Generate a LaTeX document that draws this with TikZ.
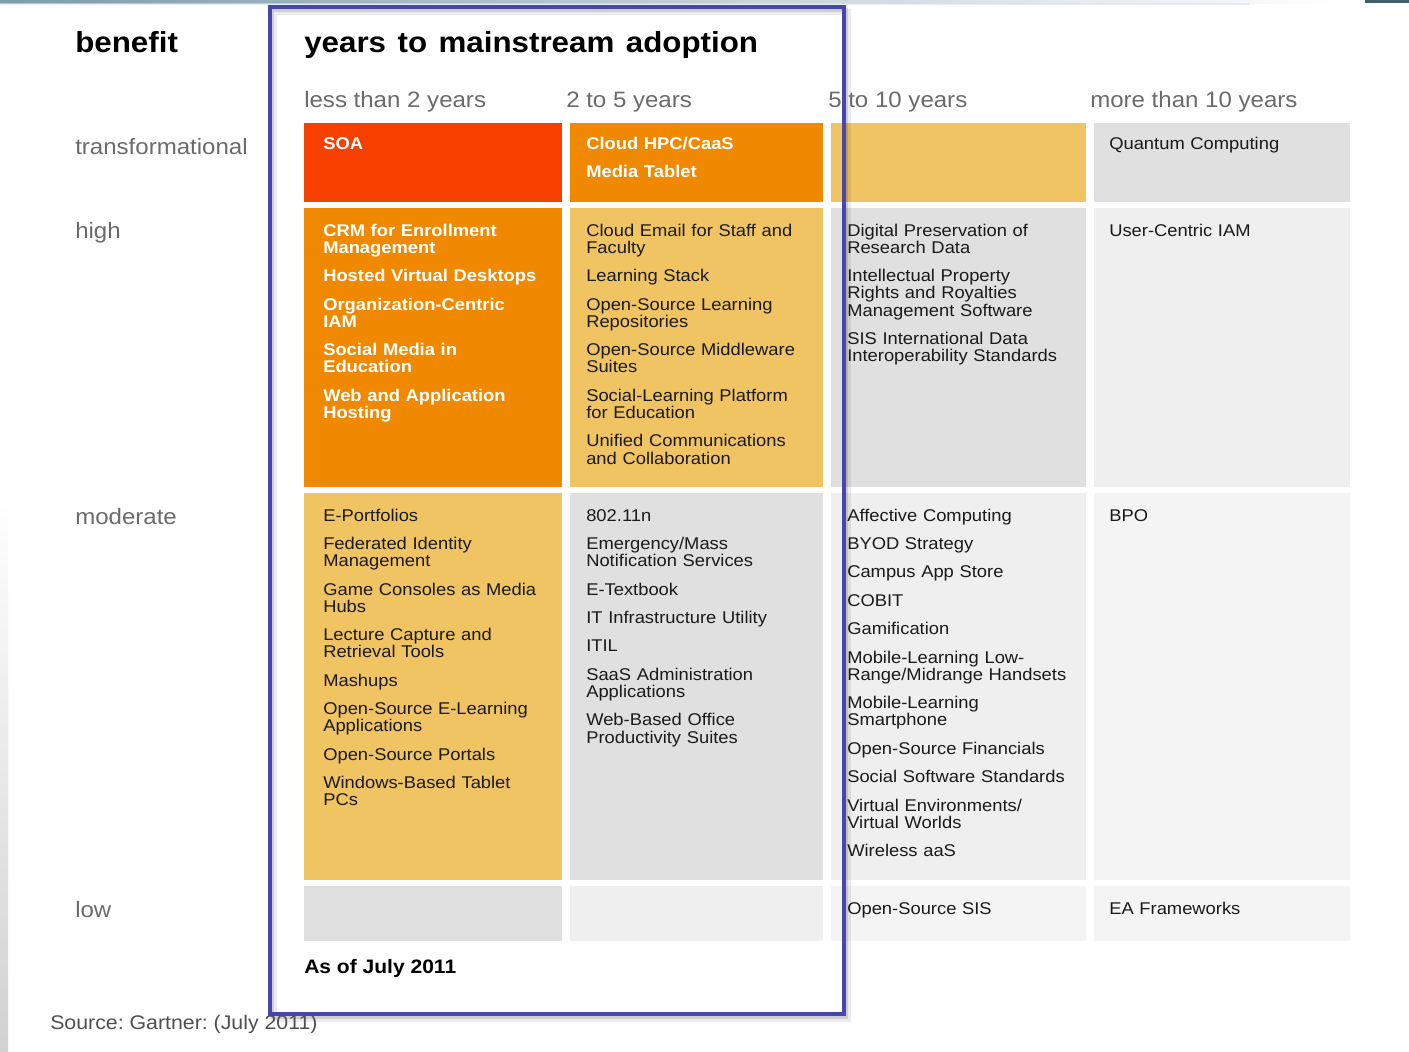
\documentclass[tikz,border=0pt]{standalone}
\usepackage{fontspec}
\setmainfont{Liberation Sans}[FakeStretch=1.08]
\frenchspacing
\definecolor{cRed}{HTML}{F73F00}
\definecolor{cOrange}{HTML}{F08800}
\definecolor{cYellow}{HTML}{F0C463}
\definecolor{cGrayA}{HTML}{E0E0E0}
\definecolor{cGrayB}{HTML}{EFEFEF}
\definecolor{cGrayC}{HTML}{F4F4F4}
\definecolor{cFrame}{HTML}{4646AE}
\definecolor{cText}{HTML}{1A1A1A}
\definecolor{cHead}{HTML}{6B6B6B}
\definecolor{cSrc}{HTML}{505050}
\definecolor{cStrip}{HTML}{7C9CAC}
\definecolor{cCorner}{HTML}{44606E}
\newcommand\itemgap{\\[8.4pt]}
\newcommand\titlefont{\bfseries\fontsize{21.75}{26}\selectfont\spaceskip 8.6pt\relax}
\begin{document}
\begin{tikzpicture}[x=0.75pt,y=-0.75pt,
  itemtxt/.style={anchor=base west, inner sep=0pt, text width=190pt, align=left,
    font=\fontsize{12.75}{12.9}\selectfont, text=cText},
  hottxt/.style={itemtxt, text=white, font=\bfseries\fontsize{12.75}{12.9}\selectfont},
  headtxt/.style={anchor=base west, inner sep=0pt, text=cHead, font=\fontsize{16.7}{20}\selectfont},
  titletxt/.style={anchor=base west, inner sep=0pt, text=black, font=\titlefont}
]
\useasboundingbox (0,0) rectangle (1409,1051);
\fill[white] (0,0) rectangle (1409,1051);
% top strip
\shade[left color=cStrip, right color=white] (0,0) rectangle (1345,3);
\fill[cStrip!30, opacity=0.6] (0,3) rectangle (1250,5);
\fill[cCorner] (1365,0) rectangle (1409,3);
% left strip
\shade[top color=white, bottom color=black!18] (0,500) rectangle (8,1051);

% cells row 1
\fill[cRed]    (304,123) rectangle (562,202);
\fill[cOrange] (570,123) rectangle (823,202);
\fill[cYellow] (831,123) rectangle (1086,202);
\fill[cGrayA]  (1094,123) rectangle (1350,202);
% row 2
\fill[cOrange] (304,208) rectangle (562,487);
\fill[cYellow] (570,208) rectangle (823,487);
\fill[cGrayA]  (831,208) rectangle (1086,487);
\fill[cGrayB]  (1094,208) rectangle (1350,487);
% row 3
\fill[cYellow] (304,493) rectangle (562,880);
\fill[cGrayA]  (570,493) rectangle (823,880);
\fill[cGrayB]  (831,493) rectangle (1086,880);
\fill[cGrayC]  (1094,493) rectangle (1350,880);
% row 4
\fill[cGrayA]  (304,886) rectangle (562,941);
\fill[cGrayB]  (570,886) rectangle (823,941);
\fill[cGrayC]  (831,886) rectangle (1086,941);
\fill[cGrayC]  (1094,886) rectangle (1350,941);

% frame with shadow
\draw[black, opacity=0.08, line width=4pt] (274,12) rectangle (848.5,1019);
\draw[black, opacity=0.12, line width=2.5pt] (272,10) rectangle (846.5,1017);
\draw[cFrame, line width=3pt] (269.5,7) rectangle (843.5,1014);

% titles
\node[titletxt] (benefit) at (75,52) {benefit};
\node[titletxt] (title) at (304,52) {years to mainstream adoption};
% column headers
\node[headtxt] (h1) at (304,107) {less than 2 years};
\node[headtxt] (h2) at (566,107) {2 to 5 years};
\node[headtxt] (h3) at (828,107) {5 to 10 years};
\node[headtxt] (h4) at (1090,107) {more than 10 years};
% row labels
\node[headtxt] (r1) at (75,154) {transformational};
\node[headtxt] (r2) at (75,238) {high};
\node[headtxt] (r3) at (75,524) {moderate};
\node[headtxt] (r4) at (75,917) {low};

% row 1 texts
\node[hottxt] (t11) at (323,149) {SOA};
\node[hottxt] (t12) at (586,149) {Cloud HPC/CaaS\itemgap Media Tablet};
\node[itemtxt] (t14) at (1109,149) {Quantum Computing};

% row 2 texts
\node[hottxt] (t21) at (323,236) {CRM for Enrollment\\Management\itemgap
Hosted Virtual Desktops\itemgap
Organization-Centric\\IAM\itemgap
Social Media in\\Education\itemgap
Web and Application\\Hosting};
\node[itemtxt] (t22) at (586,236) {Cloud Email for Staff and\\Faculty\itemgap
Learning Stack\itemgap
Open-Source Learning\\Repositories\itemgap
Open-Source Middleware\\Suites\itemgap
Social-Learning Platform\\for Education\itemgap
Unified Communications\\and Collaboration};
\node[itemtxt] (t23) at (847,236) {Digital Preservation of\\Research Data\itemgap
Intellectual Property\\Rights and Royalties\\Management Software\itemgap
SIS International Data\\Interoperability Standards};
\node[itemtxt] (t24) at (1109,236) {User-Centric IAM};

% row 3 texts
\node[itemtxt] (t31) at (323,521) {E-Portfolios\itemgap
Federated Identity\\Management\itemgap
Game Consoles as Media\\Hubs\itemgap
Lecture Capture and\\Retrieval Tools\itemgap
Mashups\itemgap
Open-Source E-Learning\\Applications\itemgap
Open-Source Portals\itemgap
Windows-Based Tablet\\PCs};
\node[itemtxt] (t32) at (586,521) {802.11n\itemgap
Emergency/Mass\\Notification Services\itemgap
E-Textbook\itemgap
IT Infrastructure Utility\itemgap
ITIL\itemgap
SaaS Administration\\Applications\itemgap
Web-Based Office\\Productivity Suites};
\node[itemtxt] (t33) at (847,521) {Affective Computing\itemgap
BYOD Strategy\itemgap
Campus App Store\itemgap
COBIT\itemgap
Gamification\itemgap
Mobile-Learning Low-\\Range/Midrange Handsets\itemgap
Mobile-Learning\\Smartphone\itemgap
Open-Source Financials\itemgap
Social Software Standards\itemgap
Virtual Environments/\\Virtual Worlds\itemgap
Wireless aaS};
\node[itemtxt] (t34) at (1109,521) {BPO};

% row 4 texts
\node[itemtxt] (t43) at (847,914) {Open-Source SIS};
\node[itemtxt] (t44) at (1109,914) {EA Frameworks};

% footer
\node[anchor=base west, inner sep=0pt, text=black, font=\bfseries\fontsize{14.6}{17}\selectfont] (asof) at (304,973) {As of July 2011};
\node[anchor=base west, inner sep=0pt, text=cSrc, font=\fontsize{14.8}{17}\selectfont] (src) at (50,1029) {Source: Gartner: (July 2011)};
\end{tikzpicture}
\end{document}
